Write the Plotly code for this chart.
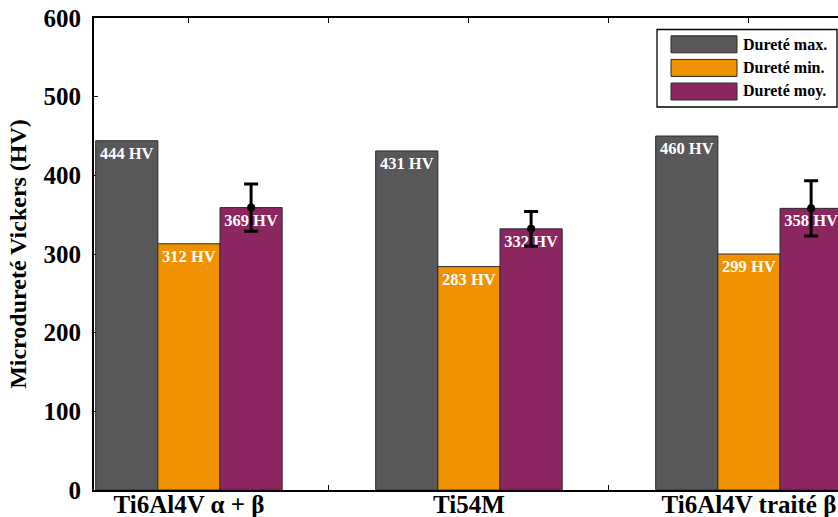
import plotly.graph_objects as go

# ---------------- data ----------------
categories = ["Ti6Al4V α + β", "Ti54M", "Ti6Al4V traité β"]
cat_pos = [1, 2, 3]
series_names = ["Dureté max.", "Dureté min.", "Dureté moy."]
durete_max = [444, 431, 450]
durete_min = [313, 284, 300]
durete_moy = [359, 332, 358]
erreur_moy = [30, 22, 35]
labels_max = ["444 HV", "431 HV", "460 HV"]
labels_min = ["312 HV", "283 HV", "299 HV"]
labels_moy = ["369 HV", "332 HV", "358 HV"]
y_ticks = [0, 100, 200, 300, 400, 500, 600]

# ---------------- style ----------------
FONT = "Liberation Serif, Times New Roman, serif"
COLORS = ["#58585a", "#f09200", "#8c2660"]
BAR_W = 0.222
OFFSETS = [-1.5 * BAR_W, -0.5 * BAR_W, 0.5 * BAR_W]

W, H = 838, 517
M_L, M_R, M_T, M_B = 94, 0, 18, 27
PLOT_W = W - M_L - M_R
PLOT_H = H - M_T - M_B


def px_x(px):
    return (px - M_L) / PLOT_W


def px_y(py):
    return (H - M_B - py) / PLOT_H


fig = go.Figure()

series = [durete_max, durete_min, durete_moy]
labels = [labels_max, labels_min, labels_moy]
for i in range(3):
    kw = {}
    if i == 2:
        kw["error_y"] = dict(type="data", array=erreur_moy, visible=True,
                             color="black", thickness=3, width=7)
    fig.add_trace(go.Bar(
        x=cat_pos, y=series[i], name=series_names[i],
        width=BAR_W, offset=OFFSETS[i],
        marker=dict(color=COLORS[i], line=dict(color="#2a2a2a", width=1)),
        text=labels[i], textposition="inside", insidetextanchor="end",
        textangle=0,
        textfont=dict(family=FONT, size=16.5, color="white", weight="bold"),
        showlegend=False,
        **kw,
    ))

# centre dots of the mean error bars
fig.add_trace(go.Scatter(
    x=[c + OFFSETS[2] + BAR_W / 2 for c in cat_pos], y=durete_moy,
    mode="markers", marker=dict(color="black", size=8),
    showlegend=False, hoverinfo="skip",
))

# ---------------- legend box (wide swatches, as in the original) ----------------
shapes = [
    dict(type="rect", xref="paper", yref="paper",
         x0=px_x(657), x1=px_x(837), y0=px_y(107), y1=px_y(29.5),
         fillcolor="white", line=dict(color="black", width=1.3), layer="above"),
]
annotations = []
ROW0, ROW_STEP, SW_H = 44.3, 23.6, 17
for i, name in enumerate(series_names):
    cy = ROW0 + i * ROW_STEP
    shapes.append(dict(
        type="rect", xref="paper", yref="paper",
        x0=px_x(671), x1=px_x(737), y0=px_y(cy + SW_H / 2), y1=px_y(cy - SW_H / 2),
        fillcolor=COLORS[i], line=dict(color="#2a2a2a", width=1), layer="above"))
    annotations.append(dict(
        xref="paper", yref="paper", x=px_x(741), y=px_y(cy),
        xanchor="left", yanchor="middle", showarrow=False, text=name,
        font=dict(family=FONT, size=16, color="black", weight="bold")))

fig.update_layout(
    width=W, height=H,
    margin=dict(l=M_L, r=M_R, t=M_T, b=M_B),
    paper_bgcolor="white", plot_bgcolor="white",
    font=dict(family=FONT, size=24, color="black", weight="bold"),
    barmode="overlay",
    uniformtext=dict(minsize=15, mode="show"),
    showlegend=False,
    shapes=shapes,
    annotations=annotations,
    xaxis=dict(
        range=[0.661, 3.318],
        tickvals=[1, 1.5, 2, 2.5, 3],
        ticktext=[categories[0], "", categories[1], "", categories[2]],
        ticks="inside", ticklen=5, tickwidth=1, tickcolor="black",
        showline=True, linecolor="black", linewidth=2, mirror="ticks",
        showgrid=False, zeroline=False, automargin=False,
        tickfont=dict(family=FONT, size=25, color="black", weight="bold"),
        ticklabelstandoff=-9,
        layer="below traces",
    ),
    yaxis=dict(
        range=[0, 600],
        tickvals=y_ticks,
        ticks="inside", ticklen=4, tickwidth=1, tickcolor="black",
        showline=True, linecolor="black", linewidth=2, mirror=False,
        showgrid=False, zeroline=False, automargin=False,
        tickfont=dict(family=FONT, size=25, color="black", weight="bold"),
        ticklabelstandoff=6,
        title=dict(text="Microdureté Vickers (HV)", standoff=10,
                   font=dict(family=FONT, size=24, color="black", weight="bold")),
        layer="below traces",
    ),
)

fig.write_html("out.html")
